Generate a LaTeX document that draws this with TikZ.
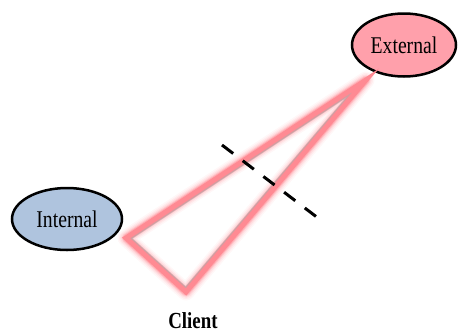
\documentclass[tikz,border=0pt]{standalone}
\usepackage{fontspec}
\setmainfont{Liberation Serif}[FakeStretch=0.82]
\usetikzlibrary{shapes.geometric}
\definecolor{glowpink}{HTML}{FF8A93}
\definecolor{internalfill}{HTML}{AFC4DE}
\definecolor{externalfill}{HTML}{FFA0AB}
\tikzset{
  zone/.style={ellipse, draw=black, line width=2.5pt, inner sep=0pt,
    font=\fontsize{24}{27}\selectfont},
  glowlayer/.style={draw=glowpink, line join=round, line cap=round},
  cutline/.style={draw=black, line width=3pt, dash pattern=on 14pt off 12pt}
}
\begin{document}
\begin{tikzpicture}[x=1pt, y=-1pt]
  \useasboundingbox (0,0) rectangle (458,333);

  % the two zones
  \node[zone, fill=externalfill, minimum width=104pt, minimum height=63pt]
    (external) at (404,45) {External};
  \node[zone, fill=internalfill, minimum width=110pt, minimum height=62pt]
    (internal) at (67,219) {Internal};
  \node[font=\bfseries\fontsize{23}{26}\selectfont, inner sep=1pt] (client) at (193,321) {Client};

  % corners of the connection triangle
  \coordinate (left) at (126,238);
  \coordinate (bottom) at (186,292);
  \coordinate (top) at (366,80);

  % soft glow around the connection triangle
  \foreach \w/\o in {17/0.07, 14/0.1, 11.5/0.15, 9/0.25, 7/0.45} {
    \draw[glowlayer, line width=\w pt, opacity=\o] (left) -- (bottom) -- (top) -- cycle;
  }
  % faint shading along the inner edge
  \begin{scope}
    \clip (left) -- (bottom) -- (top) -- cycle;
    \draw[gray, line width=8pt, opacity=0.35, line join=miter] (left) -- (bottom) -- (top) -- cycle;
  \end{scope}
  \draw[glowlayer, line width=5pt, line join=miter] (left) -- (bottom) -- (top) -- cycle;

  % dashed boundary
  \coordinate (cutA) at (222,145);
  \coordinate (cutB) at (318,218);
  \draw[cutline] (cutA) -- (cutB);
\end{tikzpicture}
\end{document}
